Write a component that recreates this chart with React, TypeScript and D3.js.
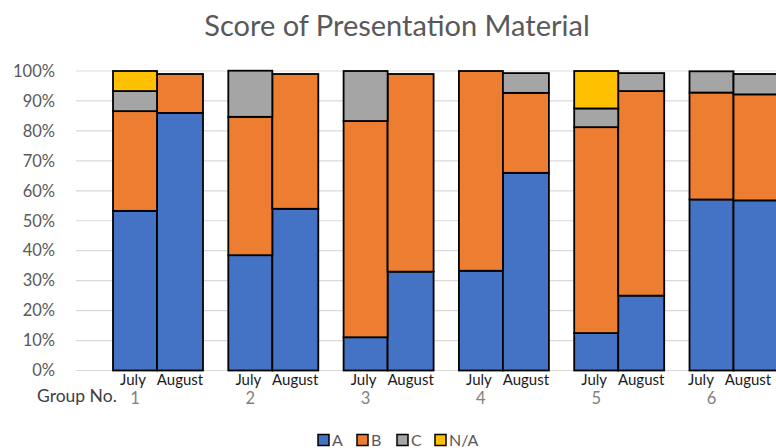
import React from 'react';
import * as d3 from 'd3';

// Groups and the two survey months shown for each group
const groups = ['1', '2', '3', '4', '5', '6'];
const months = ['July', 'August'];
const seriesKeys = ['A', 'B', 'C', 'N/A'];

// Percent of responses per score, ordered group by group: [July, August, July, August, ...]
const scoreA = [53.3, 86, 38.5, 54, 11.1, 33, 33.3, 66, 12.5, 25, 57.1, 56.8];
const scoreB = [33.3, 13, 46.2, 45, 72.2, 66, 66.7, 26.7, 68.75, 68.3, 35.7, 35.4];
const scoreC = [6.7, 0, 15.4, 0, 16.7, 0, 0, 6.6, 6.25, 6, 7.1, 6.8];
const scoreNA = [6.7, 0, 0, 0, 0, 0, 0, 0, 12.5, 0, 0, 0];

const yTicks = [0, 10, 20, 30, 40, 50, 60, 70, 80, 90, 100];

const colors: Record<string, string> = {
  A: '#4472C4',
  B: '#ED7D31',
  C: '#A5A5A5',
  'N/A': '#FFC000',
};

const W = 776;
const H = 448;
const FONT = 'Lato, "Open Sans", sans-serif';

export default function App() {
  const rows = groups.flatMap((g, gi) =>
    months.map((m, mi) => {
      const i = gi * 2 + mi;
      return { group: g, month: m, A: scoreA[i], B: scoreB[i], C: scoreC[i], 'N/A': scoreNA[i] };
    })
  );

  const stacked = d3.stack<any>().keys(seriesKeys)(rows);

  const y = d3.scaleLinear().domain([0, 100]).range([370.5, 71]);

  // group bands; each band is split into a July bar and an August bar
  const x = d3
    .scaleBand<string>()
    .domain(groups)
    .range([113, 113 + 5 * 115.3 + 90])
    .paddingInner(0.2194)
    .paddingOuter(0);
  const julyShare = 44 / 90;
  const barX = (g: string, month: string) => {
    const x0 = x(g)!;
    const bw = x.bandwidth();
    return month === 'July'
      ? { x: x0, w: bw * julyShare }
      : { x: x0 + bw * julyShare, w: bw * (1 - julyShare) };
  };

  // label centres for a group, pulled left when the August label would leave the page
  const labelX = (g: string) => {
    const j = barX(g, 'July');
    const a = barX(g, 'August');
    const ax = Math.min(a.x + a.w / 2, W - 28);
    const jx = Math.min(j.x + j.w / 2, ax - 47);
    return { July: jx, August: ax } as Record<string, number>;
  };

  const legendItems = [
    { key: 'A', x: 318 },
    { key: 'B', x: 357 },
    { key: 'C', x: 397 },
    { key: 'N/A', x: 435 },
  ];

  return (
    <svg
      width={W}
      height={H}
      style={{ position: 'absolute', left: 0, top: 0, background: '#fff' }}
      fontFamily={FONT}
    >
      <text x={397} y={36} textAnchor="middle" fontSize={29} fill="#595959">
        Score of Presentation Material
      </text>

      {/* gridlines and y tick labels */}
      {yTicks.map((t) => (
        <g key={t}>
          <line x1={76} x2={W} y1={y(t)} y2={y(t)} stroke="#D9D9D9" strokeWidth={1.2} />
          <text
            x={55}
            y={y(t)}
            dy="0.35em"
            textAnchor="end"
            fontSize={16.5}
            fill="#595959"
          >
            {t}%
          </text>
        </g>
      ))}

      {/* stacked bars */}
      {stacked.map((layer) => (
        <g key={layer.key} fill={colors[layer.key]}>
          {layer.map((d, i) => {
            const row = rows[i];
            if (d[1] - d[0] <= 0) return null;
            const b = barX(row.group, row.month);
            return (
              <rect
                key={i}
                x={b.x}
                width={b.w}
                y={y(d[1])}
                height={y(d[0]) - y(d[1])}
                stroke="#000"
                strokeWidth={1.8}
              />
            );
          })}
        </g>
      ))}

      {/* month labels */}
      {rows.map((r, i) => (
        <text
          key={'m' + i}
          x={labelX(r.group)[r.month]}
          y={385}
          textAnchor="middle"
          fontSize={15}
          fill="#1a1a1a"
        >
          {r.month}
        </text>
      ))}

      {/* group labels */}
      <text x={37} y={402} fontSize={17.5} fill="#404040">
        Group No.
      </text>
      {groups.map((g) => {
        const b = barX(g, 'July');
        return (
          <text
            key={'g' + g}
            x={b.x + b.w / 2}
            y={404}
            textAnchor="middle"
            fontSize={16.5}
            fill="#7F7F7F"
          >
            {g}
          </text>
        );
      })}

      {/* legend */}
      {legendItems.map((it) => (
        <g key={it.key}>
          <rect
            x={it.x}
            y={434.5}
            width={11}
            height={11}
            fill={colors[it.key]}
            stroke="#000"
            strokeWidth={1.5}
          />
          <text x={it.x + 14} y={445.5} fontSize={16} fill="#595959">
            {it.key}
          </text>
        </g>
      ))}
    </svg>
  );
}
